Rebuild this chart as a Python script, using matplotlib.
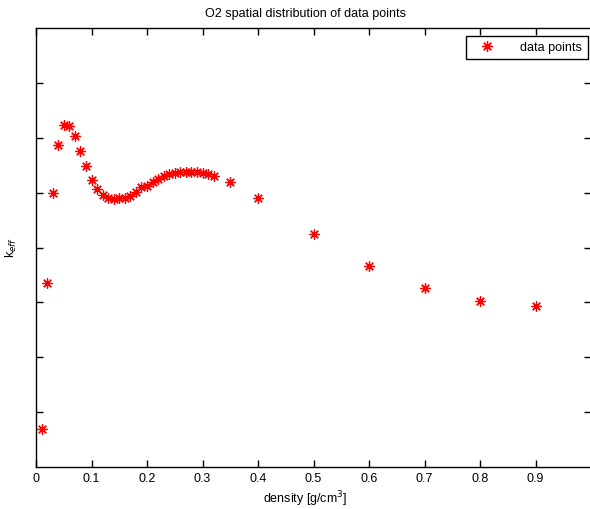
import matplotlib
matplotlib.use('Agg')
import matplotlib.pyplot as plt

# density grid and k_eff values
density = [0.01, 0.02, 0.03, 0.04, 0.05, 0.06, 0.07, 0.08, 0.09, 0.10,
           0.11, 0.12, 0.13, 0.14, 0.15, 0.16, 0.17, 0.18, 0.19, 0.20,
           0.21, 0.22, 0.23, 0.24, 0.25, 0.26, 0.27, 0.28, 0.29, 0.30,
           0.31, 0.32, 0.35, 0.40, 0.50, 0.60, 0.70, 0.80, 0.90]
k_eff = [0.669, 0.935, 1.099, 1.187, 1.223, 1.222, 1.204, 1.175, 1.149, 1.123,
         1.107, 1.096, 1.090, 1.088, 1.090, 1.091, 1.094, 1.101, 1.110, 1.112,
         1.120, 1.125, 1.130, 1.134, 1.136, 1.137, 1.138, 1.137, 1.137, 1.135,
         1.134, 1.131, 1.119, 1.091, 1.025, 0.967, 0.927, 0.903, 0.894]

x_ticks = [0, 0.1, 0.2, 0.3, 0.4, 0.5, 0.6, 0.7, 0.8, 0.9]
x_tick_labels = ['0', '0.1', '0.2', '0.3', '0.4', '0.5', '0.6', '0.7', '0.8', '0.9']
y_ticks = [0.7, 0.8, 0.9, 1.0, 1.1, 1.2, 1.3]

plt.rcParams['font.family'] = ['Liberation Sans', 'DejaVu Sans']

fig = plt.figure(figsize=(5.9, 5.09), dpi=100)
ax = fig.add_axes([36 / 590, 42 / 509, 555 / 590, 439 / 509])

ax.plot(density, k_eff, linestyle='none', marker=(8, 2, 0), markersize=7.5,
        markeredgewidth=0.9, color='red', label='data points')

ax.set_xlim(0, 1.0)
ax.set_ylim(0.6, 1.4)
ax.set_xticks(x_ticks)
ax.set_xticklabels(x_tick_labels, fontsize=9)
ax.set_yticks(y_ticks)
ax.set_yticklabels([])
ax.tick_params(direction='in', length=5, width=1, top=True, right=True, pad=4)
for s in ax.spines.values():
    s.set_linewidth(1)

ttl = ax.set_title('O2 spatial distribution of data points', fontsize=9, pad=8)
ttl.set_x(0.485)
ax.set_xlabel('density [g/cm$^3$]', fontsize=9)
ax.xaxis.set_label_coords(0.485, -0.05)
ax.set_ylabel('k$_{eff}$', fontsize=9, labelpad=8)

leg = ax.legend(loc='upper right', bbox_to_anchor=(588 / 590, 1 - 36 / 509),
                bbox_transform=fig.transFigure, borderaxespad=0, fancybox=False,
                edgecolor='black', framealpha=1, fontsize=9, handlelength=2.4,
                handletextpad=1.5, borderpad=0.45)
leg.get_frame().set_linewidth(1)

fig.savefig('out.png', dpi=100)
